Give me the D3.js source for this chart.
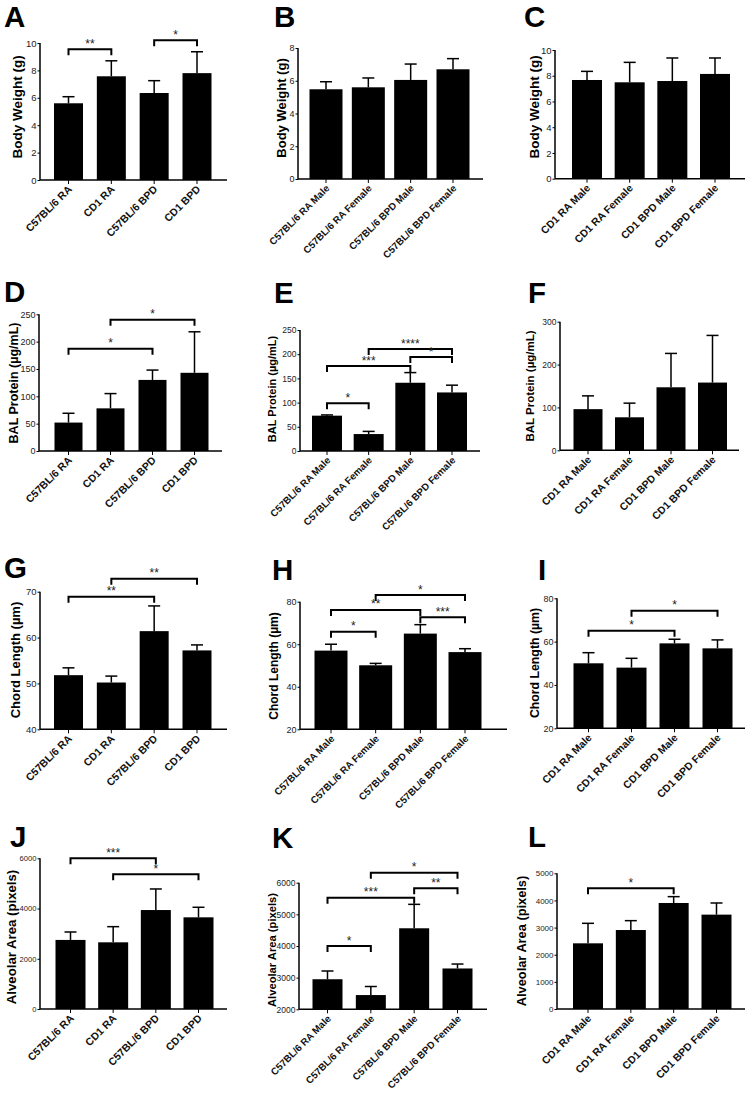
<!DOCTYPE html>
<html><head><meta charset="utf-8">
<script src="https://cdn.jsdelivr.net/npm/d3@7"></script>
<style>
body{margin:0;background:#fff}
svg{display:block}
text{font-family:"Liberation Sans",Arial,Helvetica,sans-serif}
</style>
</head><body>
<svg id="chart" width="747" height="1100"></svg>
<script>
// ---------- categories ----------
const strainCats = ["C57BL/6 RA", "CD1 RA", "C57BL/6 BPD", "CD1 BPD"];
const c57SexCats = ["C57BL/6 RA Male", "C57BL/6 RA Female", "C57BL/6 BPD Male", "C57BL/6 BPD Female"];
const cd1SexCats = ["CD1 RA Male", "CD1 RA Female", "CD1 BPD Male", "CD1 BPD Female"];

// ---------- panel letters and axis titles ----------
const panelLetters = ["A","B","C","D","E","F","G","H","I","J","K","L"];
const yTitles = [
  "Body Weight (g)", "Body Weight (g)", "Body Weight (g)",
  "BAL Protein (\u00b5g/mL)", "BAL Protein (\u00b5g/mL)", "BAL Protein (\u00b5g/mL)",
  "Chord Length (\u00b5m)", "Chord Length (\u00b5m)", "Chord Length (\u00b5m)",
  "Alveolar Area (pixels)", "Alveolar Area (pixels)", "Alveolar Area (pixels)"
];

// ---------- y domains and tick labels ----------
const domains = [[0,10],[0,8],[0,10],[0,250],[0,250],[0,300],[40,70],[20,80],[20,80],[0,6000],[2000,6000],[0,5000]];
const ticksA = [0,2,4,6,8,10], ticksB = [0,2,4,6,8], ticksC = [0,2,4,6,8,10];
const ticksD = [0,50,100,150,200,250], ticksE = [0,50,100,150,200,250], ticksF = [0,100,200,300];
const ticksG = [40,50,60,70], ticksH = [20,40,60,80], ticksI = [20,40,60,80];
const ticksJ = [0,2000,4000,6000], ticksK = [2000,3000,4000,5000,6000], ticksL = [0,1000,2000,3000,4000,5000];

// ---------- means ----------
const meanA = [5.6, 7.57, 6.35, 7.8];
const meanB = [5.48, 5.6, 6.05, 6.7];
const meanC = [7.67, 7.49, 7.59, 8.14];
const meanD = [52, 78, 130, 143];
const meanE = [73, 35, 141, 121];
const meanF = [96, 77, 147, 158];
const meanG = [51.8, 50.2, 61.4, 57.2];
const meanH = [57, 50.1, 65, 56.3];
const meanI = [50, 48, 59.2, 56.9];
const meanJ = [2750, 2655, 3940, 3650];
const meanK = [2950, 2450, 4560, 3290];
const meanL = [2420, 2910, 3906, 3477];

// ---------- upper error (SD) ----------
const errA = [0.48, 1.13, 0.9, 1.56];
const errB = [0.46, 0.57, 0.97, 0.65];
const errC = [0.67, 1.55, 1.79, 1.24];
const errD = [17, 27, 18, 75];
const errE = [1.5, 5.5, 21, 15];
const errF = [31, 33, 79, 110];
const errG = [1.6, 1.4, 5.5, 1.2];
const errH = [3, 0.9, 4.2, 1.6];
const errI = [4.9, 4.3, 1.9, 3.9];
const errJ = [316, 623, 839, 400];
const errK = [260, 270, 756, 140];
const errL = [737, 345, 234, 429];

// ---------- significance brackets: [from, to, level (data units), label] ----------
const sigA = [[0,1,9.54,"**"],[2,3,10.2,"*"]];
const sigB = [];
const sigC = [];
const sigD = [[0,2,187,"*"],[1,3,240,"*"]];
const sigE = [[0,1,98.6,"*"],[0,2,175.6,"***"],[1,3,210.7,"****"],[2,3,194.2,"*"]];
const sigF = [];
const sigG = [[0,2,68.9,"**"],[1,3,72.8,"**"]];
const sigH = [[0,1,65.9,"*"],[0,2,76.1,"**"],[1,3,83.1,"*"],[2,3,72.7,"***"]];
const sigI = [[0,2,65,"*"],[1,3,74.3,"*"]];
const sigJ = [[0,2,6002,"***"],[1,3,5364,"*"]];
const sigK = [[0,1,3999,"*"],[0,2,5524,"***"],[1,3,6313,"*"],[2,3,5821,"**"]];
const sigL = [[0,2,4449,"*"]];

const catsList = [strainCats,c57SexCats,cd1SexCats,strainCats,c57SexCats,cd1SexCats,strainCats,c57SexCats,cd1SexCats,strainCats,c57SexCats,cd1SexCats];
const ticksList = [ticksA,ticksB,ticksC,ticksD,ticksE,ticksF,ticksG,ticksH,ticksI,ticksJ,ticksK,ticksL];
const meansList = [meanA,meanB,meanC,meanD,meanE,meanF,meanG,meanH,meanI,meanJ,meanK,meanL];
const errList = [errA,errB,errC,errD,errE,errF,errG,errH,errI,errJ,errK,errL];
const sigList = [sigA,sigB,sigC,sigD,sigE,sigF,sigG,sigH,sigI,sigJ,sigK,sigL];

// ---------- layout (pixels) ----------
// ax: y-axis x, axEnd: x-axis right end, yT/yB: pixel of domain max/min,
// c0/c3: first/last bar centre, bw: bar width, lx/ly: letter pos, tx/ty/ts: y-title pos & size,
// xs: x label size, ks: y tick label size
const layout = [
  {ax:40, axEnd:227, yT:43, yB:180, c0:68.5, c3:197, bw:29, lx:4, ly:27, tx:17, ty:107, ts:13.5, xs:10.5, ks:9.5},
  {ax:298, axEnd:483, yT:48, yB:179, c0:326, c3:453, bw:33, lx:274, ly:27, tx:281, ty:108, ts:13, xs:9.8, ks:9},
  {ax:555, axEnd:745, yT:50, yB:178.7, c0:587, c3:715, bw:30, lx:524, ly:27, tx:534, ty:107, ts:13.5, xs:10.5, ks:9.5},
  {ax:39, axEnd:222, yT:314.3, yB:451, c0:68.5, c3:194.5, bw:28, lx:4, ly:302, tx:14, ty:383, ts:12.5, xs:10.5, ks:9},
  {ax:300, axEnd:480, yT:330, yB:451, c0:327, c3:452, bw:30, lx:274, ly:303, tx:272, ty:389, ts:11, xs:9.8, ks:8.5},
  {ax:560, axEnd:739, yT:321.7, yB:450.3, c0:588, c3:712.5, bw:29, lx:528, ly:303, tx:530, ty:386, ts:11.5, xs:10.5, ks:8.5},
  {ax:40, axEnd:227, yT:591.7, yB:729.3, c0:68.5, c3:197, bw:29, lx:4, ly:578, tx:15, ty:660, ts:13, xs:10.5, ks:9.5},
  {ax:300, axEnd:507, yT:601.7, yB:729.3, c0:331, c3:465, bw:33, lx:272, ly:580, tx:274, ty:666, ts:12, xs:9.8, ks:9},
  {ax:557, axEnd:745, yT:598.3, yB:728.3, c0:588.5, c3:717.5, bw:30, lx:538, ly:580, tx:535, ty:663, ts:12.3, xs:10.5, ks:9},
  {ax:40, axEnd:227, yT:858.3, yB:1009, c0:70.5, c3:198.5, bw:30, lx:10, ly:847, tx:11.5, ty:937, ts:13.2, xs:10.5, ks:7.6},
  {ax:299, axEnd:487, yT:882.7, yB:1009.3, c0:327.5, c3:457.5, bw:30, lx:272, ly:848, tx:272, ty:950, ts:11.2, xs:9.8, ks:8.5},
  {ax:557, axEnd:745, yT:873.3, yB:1009, c0:588, c3:716.5, bw:30, lx:528, ly:847, tx:522, ty:941, ts:12.8, xs:10.5, ks:8}
];

const svg = d3.select("#chart");

panelLetters.forEach((letter, p) => {
  const L = layout[p];
  const cats = catsList[p];
  const n = cats.length;
  const step = (L.c3 - L.c0) / (n - 1);
  const pad = 1 - L.bw / step;
  const x = d3.scaleBand().domain(cats)
    .range([L.c0 - step/2, L.c3 + step/2])
    .paddingInner(pad).paddingOuter(pad/2);
  const y = d3.scaleLinear().domain(domains[p]).range([L.yB, L.yT]);
  const g = svg.append("g");

  // panel letter
  g.append("text").attr("x", L.lx).attr("y", L.ly)
    .attr("font-size", 29.5).attr("font-weight", "bold").attr("fill", "#000")
    .text(letter);

  // bars
  const rows = cats.map((c, i) => ({c, m: meansList[p][i], e: errList[p][i]}));
  g.selectAll("rect.bar").data(rows).join("rect")
    .attr("x", d => x(d.c)).attr("width", x.bandwidth())
    .attr("y", d => y(d.m)).attr("height", d => y(domains[p][0]) - y(d.m))
    .attr("fill", "#000");

  // error bars (upper only)
  const cap = 12;
  g.selectAll("line.err").data(rows).join("line")
    .attr("x1", d => x(d.c) + x.bandwidth()/2).attr("x2", d => x(d.c) + x.bandwidth()/2)
    .attr("y1", d => y(d.m)).attr("y2", d => y(d.m + d.e))
    .attr("stroke", "#000").attr("stroke-width", 1.5);
  g.selectAll("line.cap").data(rows).join("line")
    .attr("x1", d => x(d.c) + x.bandwidth()/2 - cap/2).attr("x2", d => x(d.c) + x.bandwidth()/2 + cap/2)
    .attr("y1", d => y(d.m + d.e)).attr("y2", d => y(d.m + d.e))
    .attr("stroke", "#000").attr("stroke-width", 1.5);

  // y axis
  const ya = g.append("g").attr("transform", `translate(${L.ax},0)`)
    .call(d3.axisLeft(y).tickValues(ticksList[p]).tickSize(2.5).tickPadding(1).tickFormat(d3.format("d")));
  ya.select(".domain").attr("stroke-width", 1.5).attr("d", `M0,${L.yT}V${L.yB}`);
  ya.selectAll(".tick line").attr("stroke-width", 1);
  ya.selectAll(".tick text").attr("font-size", L.ks).attr("fill", "#222")
    .style("font-family", '"Liberation Sans",Arial,sans-serif');

  // x axis
  const xa = g.append("g").attr("transform", `translate(0,${L.yB})`)
    .call(d3.axisBottom(x).tickSize(4).tickFormat(""));
  xa.select(".domain").attr("stroke-width", 1.5).attr("d", `M${L.ax},0H${L.axEnd}`);
  xa.selectAll(".tick line").attr("stroke-width", 1);

  // rotated category labels
  g.selectAll("text.xl").data(cats).join("text")
    .attr("transform", d => `translate(${x(d) + x.bandwidth()/2 + 4},${L.yB + 10}) rotate(-45)`)
    .attr("text-anchor", "end").attr("font-size", L.xs).attr("font-weight", "bold").attr("fill", "#111")
    .text(d => d);

  // y title
  g.append("text")
    .attr("transform", `translate(${L.tx},${L.ty}) rotate(-90)`)
    .attr("text-anchor", "middle").attr("dy", "0.35em")
    .attr("font-size", L.ts).attr("font-weight", "bold").attr("fill", "#000")
    .text(yTitles[p]);

  // significance brackets
  const cx = i => x(cats[i]) + x.bandwidth()/2;
  const drop = 6;
  sigList[p].forEach(([a, b, lev, lab]) => {
    const yy = y(lev);
    g.append("path")
      .attr("d", `M${cx(a)},${yy + drop}V${yy}H${cx(b)}V${yy + drop}`)
      .attr("fill", "none").attr("stroke", "#000").attr("stroke-width", 2);
    g.append("text").attr("x", (cx(a) + cx(b)) / 2).attr("y", yy - 1.5)
      .attr("text-anchor", "middle").attr("font-size", 12).attr("fill", "#222")
      .text(lab);
  });
});
</script>
</body></html>
